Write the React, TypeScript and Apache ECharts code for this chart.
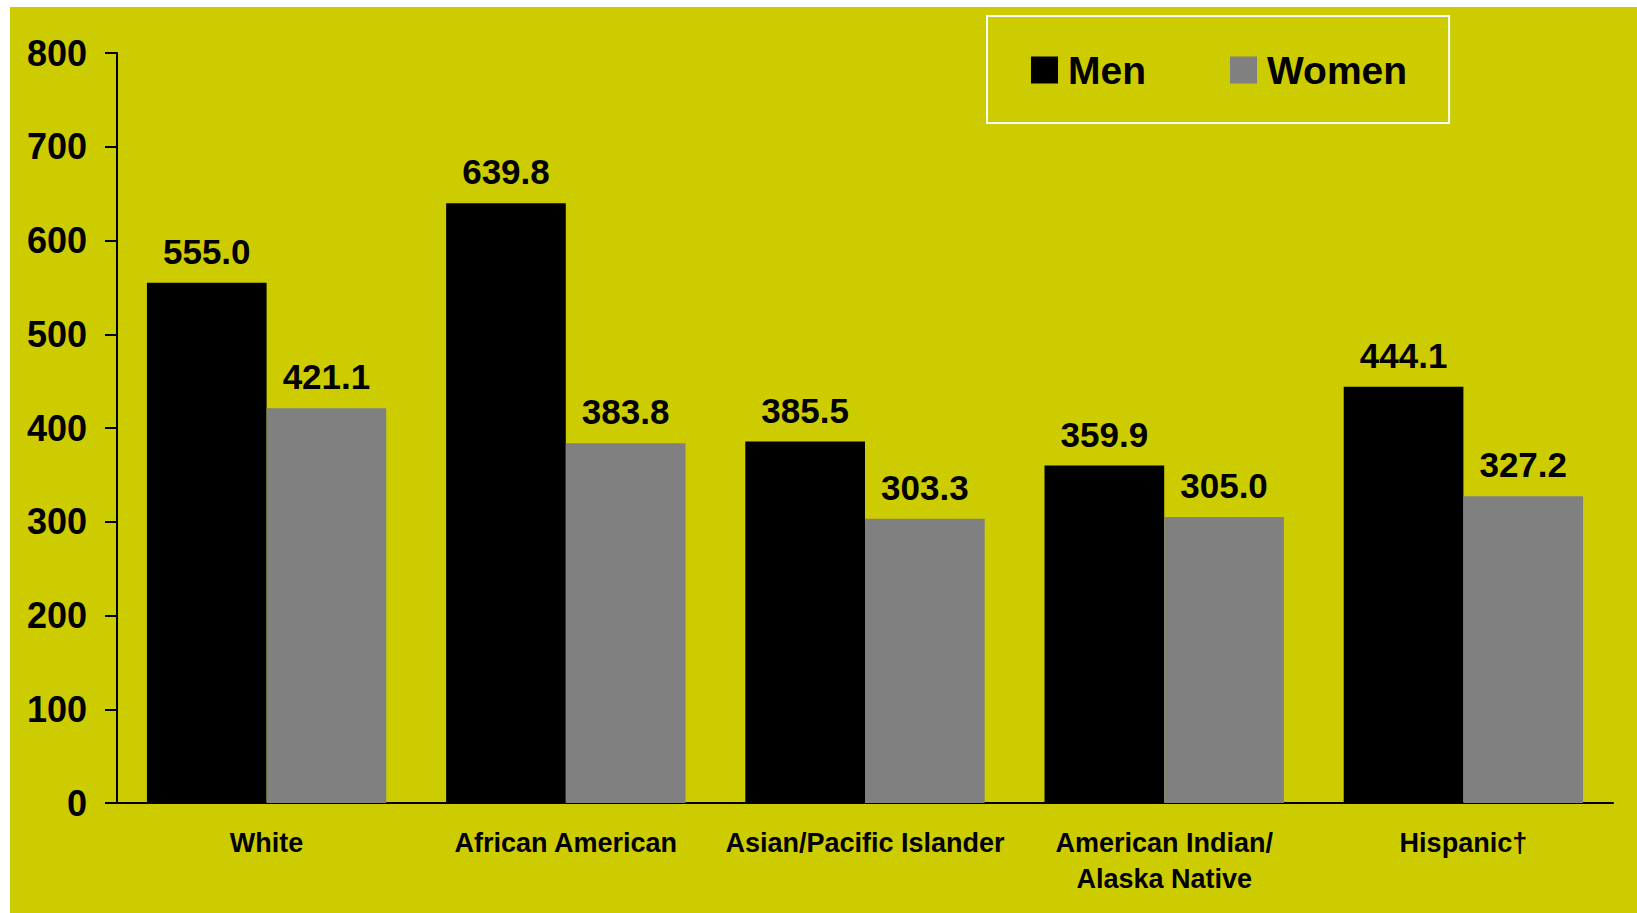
import React, { useEffect, useRef } from "react";
import * as echarts from "echarts";

const categories = [
  "White",
  "African American",
  "Asian/Pacific Islander",
  "American Indian/\nAlaska Native",
  "Hispanic†",
];
const menValues = [555.0, 639.8, 385.5, 359.9, 444.1];
const womenValues = [421.1, 383.8, 303.3, 305.0, 327.2];
const seriesNames = ["Men", "Women"];
const yMin = 0;
const yMax = 800;
const yInterval = 100;

const FONT = "'Liberation Sans', Arial, Helvetica, sans-serif";

export default function App() {
  const ref = useRef<HTMLDivElement>(null);

  useEffect(() => {
    document.body.style.margin = "0";
    if (!ref.current) return;
    const chart = echarts.init(ref.current, undefined, { renderer: "svg" });
    const labelCfg = {
      show: true,
      position: "top",
      distance: 14,
      fontSize: 35,
      fontWeight: "bold",
      fontFamily: FONT,
      color: "#000",
      formatter: (p: any) => Number(p.value).toFixed(1),
    };
    chart.setOption({
      animation: false,
      backgroundColor: "#CCCC00",
      textStyle: { fontFamily: FONT },
      grid: { left: 107, top: 46, right: 24, bottom: 110 },
      legend: {
        data: seriesNames,
        left: 977,
        top: 9,
        icon: "rect",
        itemWidth: 27,
        itemHeight: 27,
        itemGap: 84,
        borderColor: "#FFFFFF",
        borderWidth: 2,
        padding: [34, 42, 33, 44],
        textStyle: {
          fontSize: 39,
          fontWeight: "bold",
          fontFamily: FONT,
          color: "#000",
          lineHeight: 40,
          padding: [0, 0, 0, 5],
        },
      },
      xAxis: {
        type: "category",
        data: categories,
        axisLine: { show: true, lineStyle: { color: "#000", width: 2 } },
        axisTick: { show: false },
        axisLabel: {
          fontSize: 27,
          fontWeight: "bold",
          fontFamily: FONT,
          color: "#000",
          lineHeight: 36,
          margin: 22,
          interval: 0,
        },
      },
      yAxis: {
        type: "value",
        min: yMin,
        max: yMax,
        interval: yInterval,
        axisLine: { show: true, lineStyle: { color: "#000", width: 2 } },
        axisTick: { show: true, length: 12, lineStyle: { color: "#000", width: 2 } },
        splitLine: { show: false },
        axisLabel: {
          fontSize: 36,
          fontWeight: "bold",
          fontFamily: FONT,
          color: "#000",
          margin: 30,
        },
      },
      series: [
        {
          name: seriesNames[0],
          type: "bar",
          data: menValues,
          itemStyle: { color: "#000000" },
          barGap: "0%",
          barCategoryGap: "20%",
          label: labelCfg,
        },
        {
          name: seriesNames[1],
          type: "bar",
          data: womenValues,
          itemStyle: { color: "#808080" },
          barGap: "0%",
          barCategoryGap: "20%",
          label: labelCfg,
        },
      ],
    });
    return () => chart.dispose();
  }, []);

  return (
    <div
      ref={ref}
      style={{ position: "absolute", left: 10, top: 7, width: 1627, height: 906 }}
    />
  );
}
